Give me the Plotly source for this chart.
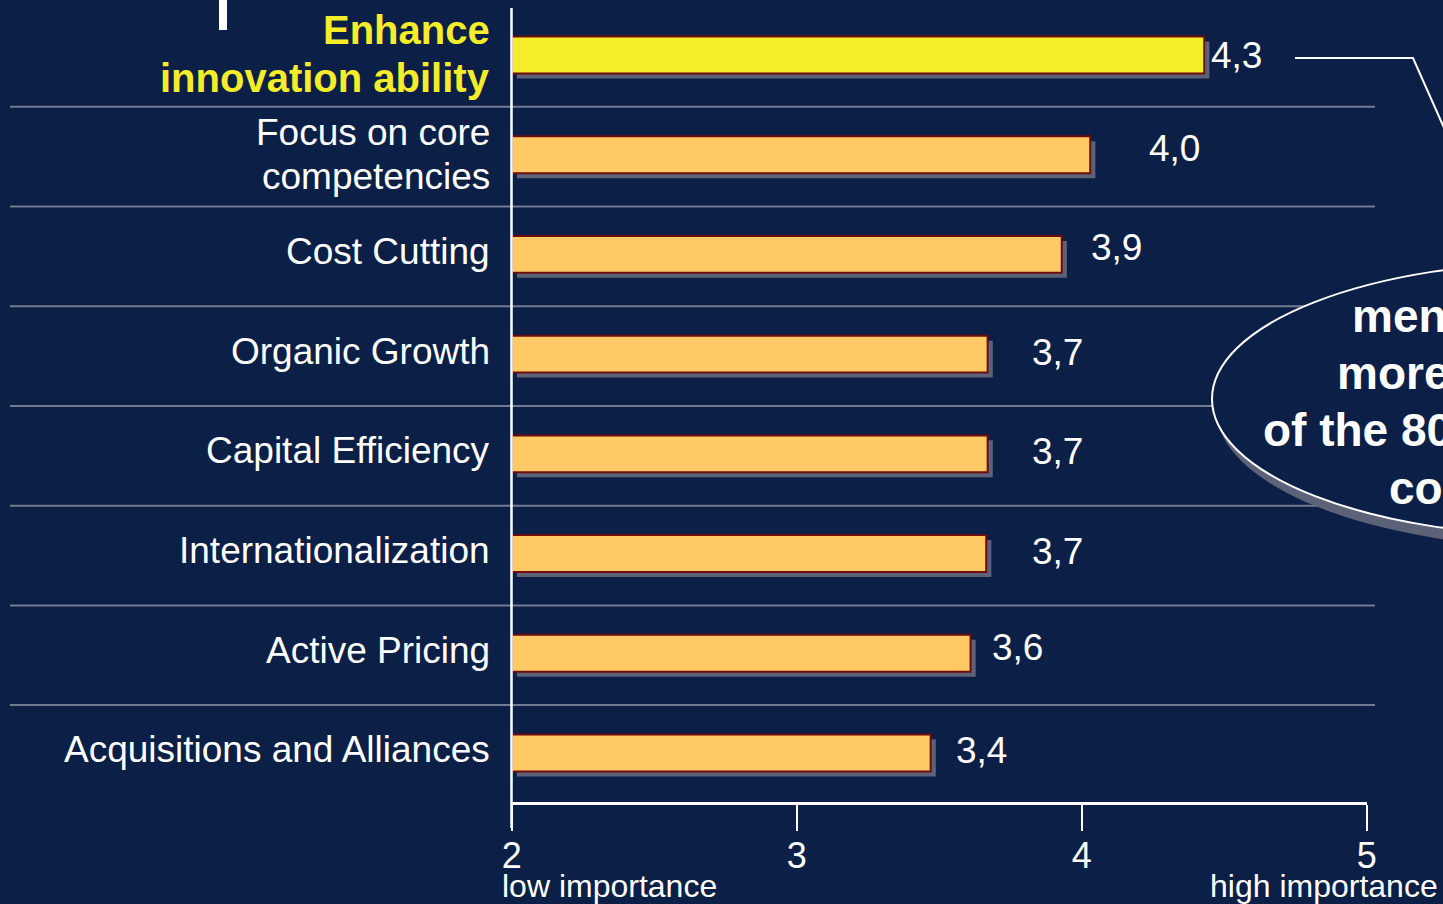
import plotly.graph_objects as go

# ---------------- data ----------------
categories = ["Enhance<br>innovation ability", "Focus on core<br>competencies", "Cost Cutting",
              "Organic Growth", "Capital Efficiency", "Internationalization",
              "Active Pricing", "Acquisitions and Alliances"]
bar_values = [4.43, 4.03, 3.93, 3.67, 3.67, 3.665, 3.61, 3.47]
value_labels = ["4,3", "4,0", "3,9", "3,7", "3,7", "3,7", "3,6", "3,4"]
label_x = [4.457, 4.24, 4.034, 3.829, 3.829, 3.829, 3.689, 3.563]
tick_vals = [2, 3, 4, 5]
tick_text = ["2", "3", "4", "5"]
callout_lines = ["men", "more", "of the 80", "co"]

# ---------------- styling ----------------
W, H = 1443, 904
BG = "#0c1f46"
FONT = "Liberation Sans, Arial, sans-serif"
BASE = 2.0

def px(x):
    return x / W

def py(y):
    return 1 - y / H

ypos = list(range(len(categories)))
fill = ["#f5ec2a"] + ["#ffc966"] * (len(categories) - 1)

fig = go.Figure()
# shadows
fig.add_trace(go.Bar(
    y=ypos, x=[v - BASE for v in bar_values], base=BASE + 0.018, orientation="h",
    width=0.37, offset=-0.185 + 0.05,
    marker=dict(color="#5c6378", line=dict(width=0)), hoverinfo="skip", showlegend=False))
# bars
fig.add_trace(go.Bar(
    y=ypos, x=[v - BASE for v in bar_values], base=BASE, orientation="h",
    width=0.37, offset=-0.185,
    marker=dict(color=fill, line=dict(color="#6e0b0b", width=2)),
    showlegend=False))

annotations = []
# value labels
for i, (lx, t) in enumerate(zip(label_x, value_labels)):
    dy = {0: 0.0, 1: -0.06, 2: -0.07, 6: -0.06}.get(i, -0.02)
    annotations.append(dict(x=lx - 0.01, y=i + dy, xref="x", yref="y", text=t, showarrow=False,
                            xanchor="left", yanchor="middle",
                            font=dict(family=FONT, size=37, color="white")))
# category labels (one annotation per line)
for i, cat in enumerate(categories):
    lines = cat.split("<br>")
    if i == 0:
        size, color, bold, spacing, shift = 40, "#f5ec2a", True, 0.48, 0.02
    else:
        size, color, bold, spacing, shift = 37, "white", False, 0.44, 0.0
    n = len(lines)
    for k, ln in enumerate(lines):
        extra = 0.025 if (n > 1 and i > 0) else 0.0
        yy = i - 0.03 + shift + extra + (k - (n - 1) / 2) * spacing
        txt = f"<b>{ln}</b>" if bold else ln
        annotations.append(dict(x=px(492), y=yy, xref="paper", yref="y", text=txt,
                                showarrow=False, xanchor="right", yanchor="middle",
                                font=dict(family=FONT, size=size, color=color)))
# axis end labels
annotations.append(dict(x=px(500), y=py(886), xref="paper", yref="paper", text="low importance",
                        showarrow=False, xanchor="left", yanchor="middle",
                        font=dict(family=FONT, size=32, color="white")))
annotations.append(dict(x=px(1440), y=py(886), xref="paper", yref="paper", text="high importance",
                        showarrow=False, xanchor="right", yanchor="middle",
                        font=dict(family=FONT, size=32, color="white")))
# callout text
for ln, (lx, ly) in zip(callout_lines, [(1350, 316), (1335, 373), (1261, 430), (1387, 488)]):
    annotations.append(dict(x=px(lx), y=py(ly), xref="paper", yref="paper", text=f"<b>{ln}</b>",
                            showarrow=False, xanchor="left", yanchor="middle",
                            font=dict(family=FONT, size=46, color="white")))

shapes = []
# separators between categories
for i in range(len(categories) - 1):
    shapes.append(dict(type="line", xref="paper", yref="y", x0=px(10), x1=px(1375),
                       y0=i + 0.52, y1=i + 0.52, line=dict(color="#737b93", width=2), layer="below"))
# callout ellipse shadow and ellipse
shapes.append(dict(type="circle", xref="paper", yref="paper", x0=px(1216), x1=px(1916),
                   y0=py(270), y1=py(548), fillcolor="#5c6378", line=dict(width=0), layer="below"))
shapes.append(dict(type="circle", xref="paper", yref="paper", x0=px(1212), x1=px(1912),
                   y0=py(262), y1=py(536), fillcolor=BG, line=dict(color="white", width=2), layer="below"))
# connector
shapes.append(dict(type="path", xref="paper", yref="paper",
                   path=f"M {px(1295)} {py(58)} L {px(1413)} {py(58)} L {px(1445)} {py(130)}",
                   line=dict(color="white", width=2)))
# vertical axis line
shapes.append(dict(type="line", xref="paper", yref="paper", x0=px(511.5), x1=px(511.5),
                   y0=py(8), y1=py(828), line=dict(color="white", width=2.5)))
# white mark top left
shapes.append(dict(type="rect", xref="paper", yref="paper", x0=px(219), x1=px(227),
                   y0=py(0), y1=py(30), fillcolor="white", line=dict(width=0)))

fig.update_layout(
    width=W, height=H, paper_bgcolor=BG, plot_bgcolor=BG,
    margin=dict(l=0, r=0, t=0, b=0, autoexpand=False), barmode="overlay",
    xaxis=dict(domain=[px(511.7), px(1366.7)], range=[2, 5], tickvals=tick_vals, ticktext=tick_text,
               ticks="outside", ticklen=26, tickwidth=2, tickcolor="white", ticklabelstandoff=-6,
               showline=True, linecolor="white", linewidth=2.5, showgrid=False, zeroline=False,
               automargin=False, tickfont=dict(family=FONT, size=36, color="white")),
    yaxis=dict(domain=[1 - 802 / H, 1], range=[7.492, -0.5516], showticklabels=False, automargin=False,
               showgrid=False, zeroline=False, showline=False, ticks=""),
    annotations=annotations, shapes=shapes, showlegend=False,
)

fig.write_html("out.html", config={"displayModeBar": False},
               post_script="document.body.style.margin='0';document.body.style.overflow='hidden';")
